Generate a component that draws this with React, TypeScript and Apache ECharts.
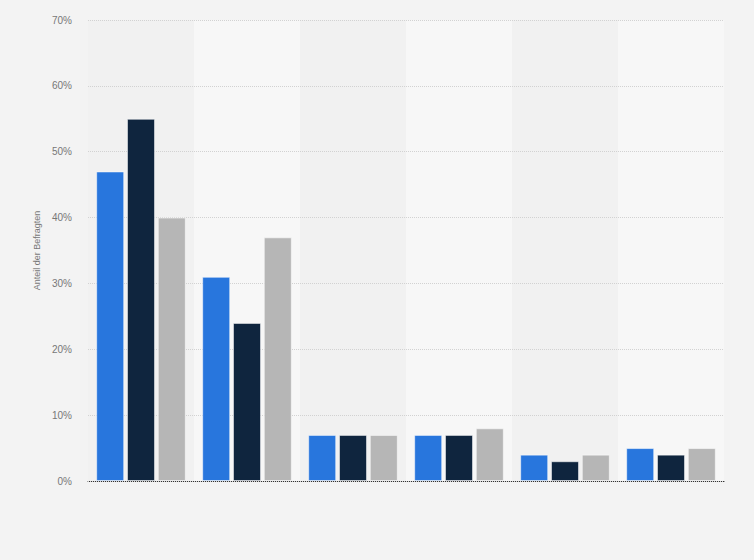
import React, { useEffect, useRef } from "react";
import * as echarts from "echarts";

const categories = ["Kategorie 1", "Kategorie 2", "Kategorie 3", "Kategorie 4", "Kategorie 5", "Kategorie 6"];
const seriesNames = ["Serie 1", "Serie 2", "Serie 3"];
const seriesA = [47, 31, 7, 7, 4, 5];
const seriesB = [55, 24, 7, 7, 3, 4];
const seriesC = [40, 37, 7, 8, 4, 5];
const colors = ["#2876dd", "#0f253e", "#b6b6b6"];

export default function App() {
  const ref = useRef<HTMLDivElement>(null);
  useEffect(() => {
    document.body.style.margin = "0";
    const chart = echarts.init(ref.current!, null, { renderer: "svg" });
    const data = [seriesA, seriesB, seriesC];
    chart.setOption({
      animation: false,
      backgroundColor: "#f3f3f3",
      grid: { left: 88, right: 30, top: 20, bottom: 79 },
      xAxis: {
        type: "category",
        data: categories,
        axisLabel: { show: false },
        axisTick: { show: false },
        axisLine: { show: true, lineStyle: { color: "#333333", width: 1 } },
        splitArea: { show: true, areaStyle: { color: ["#f1f1f1", "#f7f7f7"] } },
        z: 1,
      },
      yAxis: {
        type: "value",
        min: 0,
        max: 70,
        interval: 10,
        name: "Anteil der Befragten",
        nameLocation: "middle",
        nameGap: 39,
        nameTextStyle: { color: "#777777", fontSize: 9, fontFamily: "Liberation Sans, Arial, sans-serif" },
        axisLabel: {
          formatter: "{value}%",
          color: "#777777",
          fontSize: 10,
          margin: 16,
          fontFamily: "Liberation Sans, Arial, sans-serif",
        },
        axisLine: { show: false },
        axisTick: { show: false },
        splitLine: { show: true, lineStyle: { color: "#d2d2d2", type: "dotted", width: 1 } },
        z: 2,
      },
      series: data.map((d, i) => ({
        type: "bar",
        name: seriesNames[i],
        data: d,
        barWidth: 28,
        barGap: "10%",
        z: 5,
        itemStyle: { color: colors[i], borderColor: "rgba(255,255,255,0.5)", borderWidth: 1 },
      })),
    });
    return () => chart.dispose();
  }, []);
  return <div ref={ref} style={{ width: 754, height: 560 }} />;
}
